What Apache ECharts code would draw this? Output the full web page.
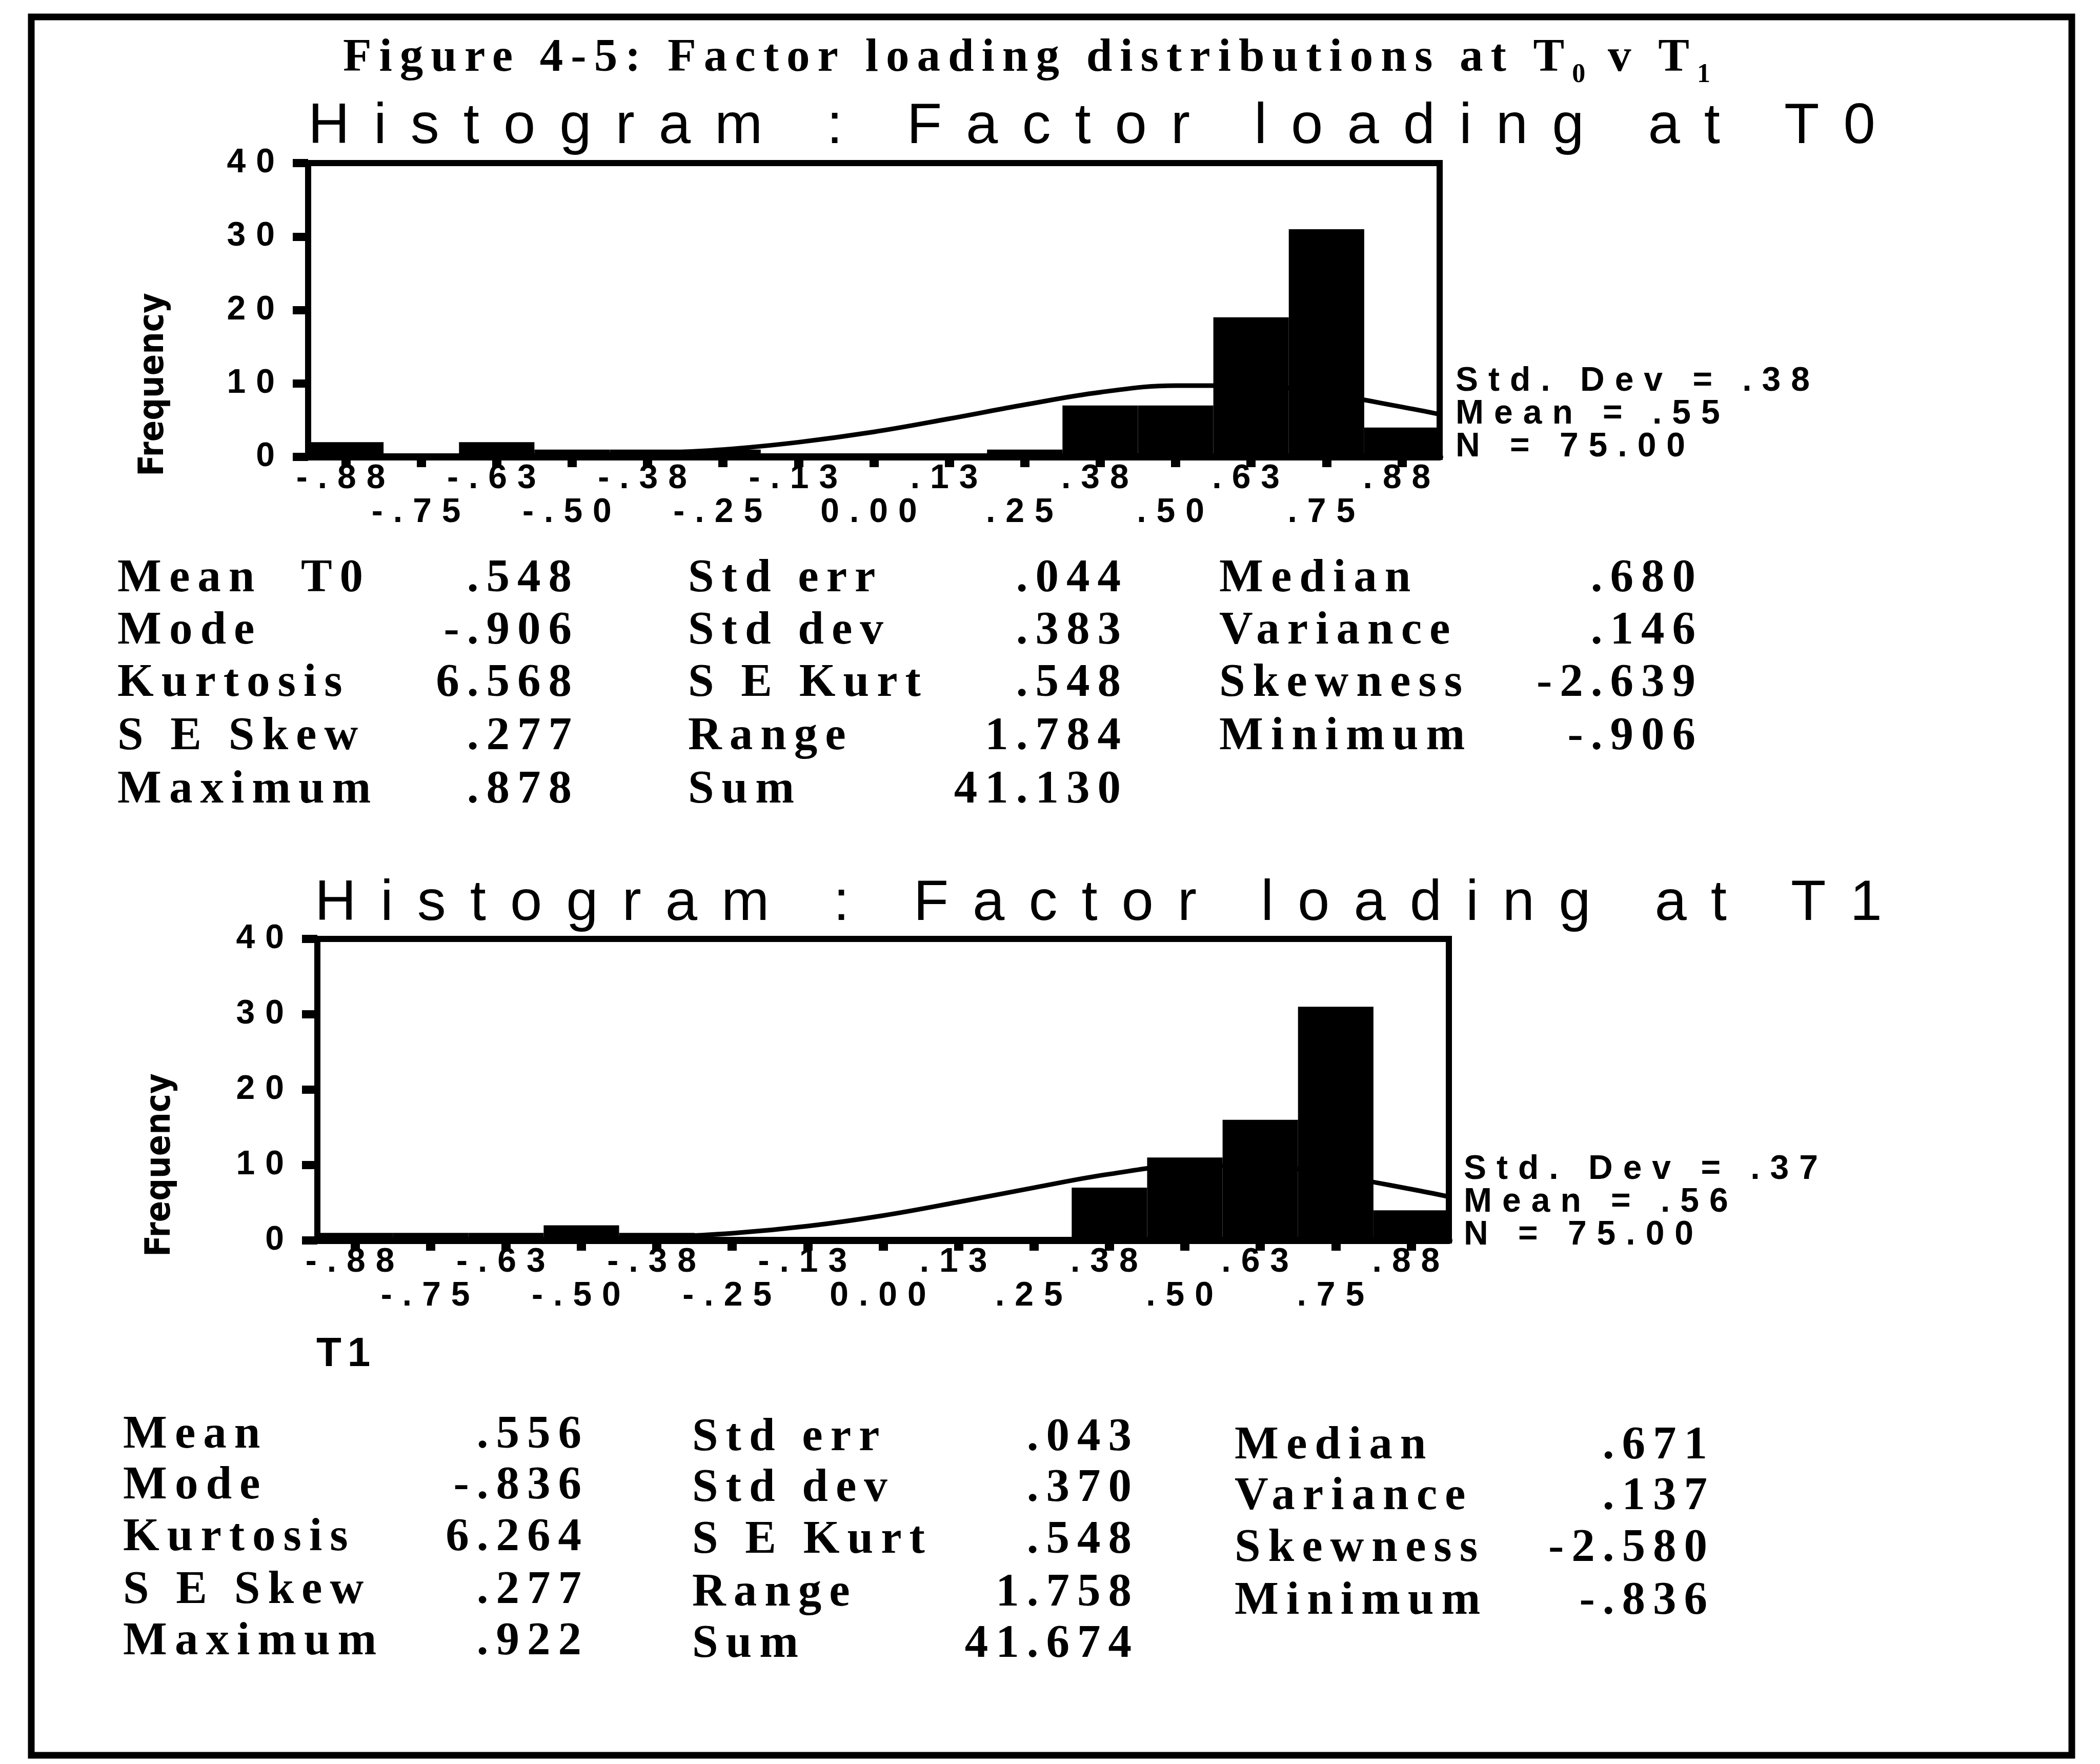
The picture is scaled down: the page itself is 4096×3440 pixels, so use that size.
<!DOCTYPE html>
<html>
<head>
<meta charset="utf-8">
<title>Figure 4-5: Factor loading distributions</title>
<script src="https://cdn.jsdelivr.net/npm/echarts@6/dist/echarts.min.js"></script>
<style>
  html, body { margin: 0; padding: 0; background: #fff; }
  #chart { width: 4096px; height: 3440px; }
</style>
</head>
<body>
<div id="chart"></div>
<script>
// ---- data -----------------------------------------------------------------
// histogram bins (centres, width .125) and their printed labels
const binLabels = ['-.88', '-.75', '-.63', '-.50', '-.38', '-.25', '-.13', '0.00',
                   '.13', '.25', '.38', '.50', '.63', '.75', '.88'];
const countsT0 = [2, 0, 2, 1, 1, 1, 0, 0, 0, 1, 7, 7, 19, 31, 4];
const countsT1 = [1, 1, 1, 2, 1, 0, 0, 0, 0, 0, 7, 11, 16, 31, 4];

// fitted normal curve, read at these loadings
const curveX  = [-0.9375, -0.75, -0.625, -0.5, -0.375, -0.25, -0.125, 0, 0.125,
                 0.25, 0.375, 0.5, 0.625, 0.75, 0.875, 0.9375];
const curveT0 = [0, 0.05, 0.1, 0.2, 0.5, 1.0, 2.0, 3.4, 5.2, 7.1, 8.8, 9.7, 9.7, 8.6, 6.8, 5.8];
const curveT1 = [0, 0.02, 0.06, 0.2, 0.45, 0.95, 1.9, 3.3, 5.1, 7.0, 8.8, 9.9, 9.9, 8.6, 6.8, 5.8];

const legendT0 = ['Std. Dev = .38', 'Mean = .55', 'N = 75.00'];
const legendT1 = ['Std. Dev = .37', 'Mean = .56', 'N = 75.00'];

// descriptive statistics, three label/value column pairs
const statLabelsT0 = [['Mean  T0', 'Mode', 'Kurtosis', 'S E Skew', 'Maximum'],
                      ['Std err', 'Std dev', 'S E Kurt', 'Range', 'Sum'],
                      ['Median', 'Variance', 'Skewness', 'Minimum']];
const statValuesT0 = [['.548', '-.906', '6.568', '.277', '.878'],
                      ['.044', '.383', '.548', '1.784', '41.130'],
                      ['.680', '.146', '-2.639', '-.906']];
const statLabelsT1 = [['Mean', 'Mode', 'Kurtosis', 'S E Skew', 'Maximum'],
                      ['Std err', 'Std dev', 'S E Kurt', 'Range', 'Sum'],
                      ['Median', 'Variance', 'Skewness', 'Minimum']];
const statValuesT1 = [['.556', '-.836', '6.264', '.277', '.922'],
                      ['.043', '.370', '.548', '1.758', '41.674'],
                      ['.671', '.137', '-2.580', '-.836']];

// ---- typewriter-style letter spacing, chosen by font size (px -> px) -------
const LETTER_SPACING = { 91: 15, 52: 6, 112: 47, 66: 20, 80: 12 };
(function () {
  const proto = CanvasRenderingContext2D.prototype;
  function spacingFor(font) {
    const m = /(\d+(?:\.\d+)?)px/.exec(font || '');
    return m ? (LETTER_SPACING[Math.round(parseFloat(m[1]))] || 0) : 0;
  }
  ['fillText', 'strokeText', 'measureText'].forEach(function (name) {
    const orig = proto[name];
    proto[name] = function () {
      if ('letterSpacing' in this) this.letterSpacing = spacingFor(this.font) + 'px';
      return orig.apply(this, arguments);
    };
  });
})();

// ---- layout ---------------------------------------------------------------
const SANS = '"Liberation Sans", Arial, sans-serif';
const SERIF = '"Liberation Serif", "Times New Roman", serif';
const NARROW = '"Liberation Sans Narrow", "DejaVu Sans Condensed", sans-serif';

const panels = [
  { grid: { left: 601, top: 318, width: 2207, height: 573 },
    counts: countsT0, curve: curveT0, legend: legendT0,
    title: 'Histogram : Factor loading at T0', titleX: 601, titleBase: 287,
    legendX: 2839, legendBase: 767, freqX: 300, freqY: 750 },
  { grid: { left: 619, top: 1831, width: 2207, height: 588 },
    counts: countsT1, curve: curveT1, legend: legendT1,
    title: 'Histogram : Factor loading at T1', titleX: 614, titleBase: 1802,
    legendX: 2855, legendBase: 2304, freqX: 313, freqY: 2272 }
];

const statBlocks = [
  { labels: statLabelsT0, values: statValuesT0,
    rows: [1160, 1262, 1364, 1468, 1572],
    labelX: [229, 1342, 2378], valueRight: [1115, 2186, 3307], colDy: [0, 0, 0] },
  { labels: statLabelsT1, values: statValuesT1,
    rows: [2830, 2929, 3030, 3133, 3233],
    labelX: [240, 1350, 2408], valueRight: [1134, 2207, 3330], colDy: [0, 5, 21] }
];

function text(x, y, str, size, family, weight, align, extra) {
  const el = {
    type: 'text', x: x, y: y, silent: true,
    style: {
      text: str, fill: '#000', fontSize: size, fontFamily: family, fontWeight: weight,
      align: align, textAlign: align, verticalAlign: 'middle', textVerticalAlign: 'middle'
    }
  };
  return Object.assign(el, extra || {});
}

const graphics = [];
// outer frame
graphics.push({
  type: 'rect', silent: true,
  shape: { x: 61, y: 33, width: 3980, height: 3390 },
  style: { fill: 'none', stroke: '#000', lineWidth: 13 }
});
// figure caption with subscripts
graphics.push({
  type: 'text', x: 669, y: 52, silent: true,
  style: {
    text: 'Figure 4-5: Factor loading distributions at T{s|0} v T{s|1}',
    fill: '#000', fontSize: 91, fontFamily: SERIF, fontWeight: 'bold', lineHeight: 124,
    align: 'left', verticalAlign: 'top',
    rich: { s: { fontSize: 52, fontFamily: SERIF, fontWeight: 'bold', lineHeight: 60, verticalAlign: 'bottom' } }
  }
});

panels.forEach(function (p) {
  graphics.push(text(p.titleX, p.titleBase - 39, p.title, 112, SANS, 'normal', 'left'));
  p.legend.forEach(function (s, i) {
    graphics.push(text(p.legendX, p.legendBase + i * 64 - 23, s, 66, SANS, 'bold', 'left'));
  });
  graphics.push(text(p.freqX, p.freqY, 'Frequency', 68, NARROW, 'bold', 'center',
    { rotation: Math.PI / 2 }));
});
graphics.push(text(617, 2642, 'T1', 80, SANS, 'bold', 'left'));

statBlocks.forEach(function (b) {
  for (let c = 0; c < 3; c++) {
    b.labels[c].forEach(function (s, r) {
      const y = b.rows[r] + b.colDy[c] - 31;
      graphics.push(text(b.labelX[c], y, s, 91, SERIF, 'bold', 'left'));
      graphics.push(text(b.valueRight[c] + 15, y, b.values[c][r], 91, SERIF, 'bold', 'right'));
    });
  }
});

// ---- axes and series ------------------------------------------------------
const xAxes = [], yAxes = [], series = [];
panels.forEach(function (p, g) {
  xAxes.push({
    gridIndex: g, type: 'category', data: binLabels, boundaryGap: true, position: 'bottom',
    axisLine: { show: true, onZero: false, lineStyle: { color: '#000', width: 14 } },
    axisTick: { show: true, alignWithLabel: true, interval: 0, length: 20,
                lineStyle: { color: '#000', width: 18 } },
    axisLabel: {
      interval: 0, margin: 10, color: '#000', fontFamily: SANS, fontWeight: 'bold',
      fontSize: 66, lineHeight: 66,
      formatter: function (v, i) { return i % 2 ? '\n' + v : v; }
    },
    splitLine: { show: false }
  });
  xAxes.push({
    gridIndex: g, type: 'value', min: -0.9375, max: 0.9375, show: false,
    position: 'top', axisLine: { onZero: false }
  });
  yAxes.push({
    gridIndex: g, type: 'value', min: 0, max: 40, interval: 10, position: 'left',
    axisLine: { show: true, onZero: false, lineStyle: { color: '#000', width: 10 } },
    axisTick: { show: true, length: 30, lineStyle: { color: '#000', width: 16 } },
    axisLabel: { margin: 45, color: '#000', fontFamily: SANS, fontWeight: 'bold', fontSize: 66 },
    splitLine: { show: false }
  });
  series.push({
    type: 'bar', xAxisIndex: g * 2, yAxisIndex: g, data: p.counts,
    barCategoryGap: '0%', itemStyle: { color: '#000' }, silent: true
  });
  series.push({
    type: 'line', xAxisIndex: g * 2 + 1, yAxisIndex: g,
    data: curveX.map(function (x, i) { return [x, p.curve[i]]; }),
    smooth: 0.4, symbol: 'none', silent: true,
    lineStyle: { color: '#000', width: 9 }
  });
});

const chart = echarts.init(document.getElementById('chart'), null, { renderer: 'canvas' });
chart.setOption({
  animation: false,
  backgroundColor: '#fff',
  grid: panels.map(function (p) {
    return Object.assign({ show: true, borderColor: '#000', borderWidth: 12,
                           outerBoundsMode: 'none', containLabel: false }, p.grid);
  }),
  xAxis: xAxes,
  yAxis: yAxes,
  series: series,
  graphic: graphics
});
</script>
</body>
</html>
